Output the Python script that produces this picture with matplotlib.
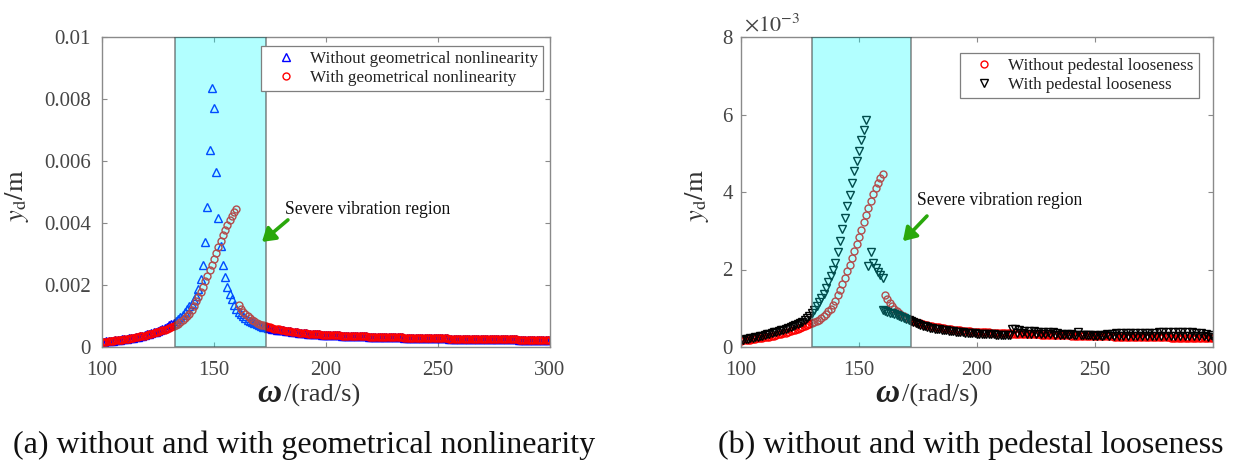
import numpy as np
import matplotlib
matplotlib.use('Agg')
import matplotlib.pyplot as plt

plt.rcParams['font.family'] = ['Liberation Serif', 'DejaVu Serif']
plt.rcParams['mathtext.fontset'] = 'stix'

# ---------------- data (displacement in units of 1e-4 m) ----------------
omega_start, omega_end = 100, 300
unit = 1e-4

# "With geometrical nonlinearity" / "Without pedestal looseness" (red circles)
y_red = [
    1.6, 1.7, 1.75, 1.8, 1.9, 2.0, 2.1, 2.2, 2.3, 2.4,            # 100
    2.5, 2.6, 2.7, 2.8, 2.95, 3.1, 3.25, 3.4, 3.55, 3.7,          # 110
    3.9, 4.1, 4.3, 4.5, 4.7, 4.9, 5.1, 5.35, 5.6, 5.85,           # 120
    6.1, 6.4, 6.7, 7.05, 7.5, 8.0, 8.6, 9.2, 9.9, 10.8,           # 130
    12.0, 13.3, 14.7, 16.2, 17.8, 19.5, 21.2, 23.0, 24.8, 26.6,   # 140
    28.4, 30.3, 32.2, 34.1, 36.0, 37.8, 39.5, 41.0, 42.4, 43.6,   # 150
    44.6, 13.4, 12.3, 11.4, 10.6, 9.9, 9.3, 8.8, 8.3, 7.9,        # 160
    7.55, 7.25, 7.0, 6.75, 6.5, 6.3, 6.1, 5.95, 5.8, 5.65,        # 170
    5.5, 5.38, 5.26, 5.15, 5.04, 4.94, 4.84, 4.74, 4.64, 4.55,    # 180
    4.45, 4.39, 4.33, 4.27, 4.21, 4.15, 4.09, 4.04, 3.99, 3.94,   # 190
    3.9, 3.87, 3.84, 3.81, 3.78, 3.75, 3.72, 3.69, 3.66, 3.63,    # 200
    3.6, 3.57, 3.55, 3.52, 3.5, 3.47, 3.45, 3.42, 3.4, 3.37,      # 210
    3.35, 3.33, 3.31, 3.29, 3.27, 3.25, 3.23, 3.21, 3.19, 3.17,   # 220
    3.15, 3.13, 3.11, 3.09, 3.07, 3.05, 3.03, 3.01, 2.99, 2.97,   # 230
    2.95, 2.93, 2.92, 2.9, 2.89, 2.87, 2.86, 2.84, 2.83, 2.81,    # 240
    2.8, 2.79, 2.78, 2.76, 2.75, 2.74, 2.73, 2.71, 2.7, 2.69,     # 250
    2.68, 2.67, 2.66, 2.65, 2.63, 2.62, 2.61, 2.6, 2.59, 2.58,    # 260
    2.57, 2.56, 2.55, 2.54, 2.53, 2.52, 2.51, 2.5, 2.49, 2.48,    # 270
    2.47, 2.46, 2.45, 2.44, 2.43, 2.42, 2.41, 2.4, 2.39, 2.38,    # 280
    2.38, 2.37, 2.36, 2.35, 2.34, 2.33, 2.33, 2.32, 2.31, 2.3, 2.3,  # 290-300
]

# "Without geometrical nonlinearity" (blue triangles)
y_blue = [
    1.65, 1.72, 1.8, 1.86, 1.94, 2.03, 2.12, 2.22, 2.32, 2.43,    # 100
    2.54, 2.65, 2.77, 2.9, 3.04, 3.19, 3.34, 3.5, 3.67, 3.85,     # 110
    4.05, 4.26, 4.48, 4.72, 4.97, 5.24, 5.53, 5.84, 6.18, 6.55,   # 120
    6.95, 7.4, 7.9, 8.45, 9.05, 9.7, 10.4, 11.2, 12.1, 13.1,      # 130
    14.0, 15.2, 16.4, 18.6, 21.8, 26.5, 33.8, 45.1, 63.5, 83.5,   # 140
    77.2, 56.3, 41.7, 32.7, 26.5, 22.5, 19.5, 17.1, 15.4, 13.6,   # 150
    12.3, 11.4, 10.6, 9.9, 9.3, 8.8, 8.35, 7.95, 7.6, 7.3,        # 160
    7.05, 6.8, 6.6, 6.4, 6.2, 6.05, 5.9, 5.75, 5.6, 5.5,          # 170
    5.5, 5.38, 5.26, 5.15, 5.04, 4.94, 4.84, 4.74, 4.64, 4.55,    # 180
    4.45, 4.39, 4.33, 4.27, 4.21, 4.15, 4.09, 4.04, 3.99, 3.94,   # 190
    3.9, 3.87, 3.84, 3.81, 3.78, 3.75, 3.72, 3.69, 3.66, 3.63,    # 200
    3.6, 3.57, 3.55, 3.52, 3.5, 3.47, 3.45, 3.42, 3.4, 3.37,      # 210
    3.35, 3.33, 3.31, 3.29, 3.27, 3.25, 3.23, 3.21, 3.19, 3.17,   # 220
    3.15, 3.13, 3.11, 3.09, 3.07, 3.05, 3.03, 3.01, 2.99, 2.97,   # 230
    2.95, 2.93, 2.92, 2.9, 2.89, 2.87, 2.86, 2.84, 2.83, 2.81,    # 240
    2.8, 2.79, 2.78, 2.76, 2.75, 2.74, 2.73, 2.71, 2.7, 2.69,     # 250
    2.68, 2.67, 2.66, 2.65, 2.63, 2.62, 2.61, 2.6, 2.59, 2.58,    # 260
    2.57, 2.56, 2.55, 2.54, 2.53, 2.52, 2.51, 2.5, 2.49, 2.48,    # 270
    2.47, 2.46, 2.45, 2.44, 2.43, 2.42, 2.41, 2.4, 2.39, 2.38,    # 280
    2.38, 2.37, 2.36, 2.35, 2.34, 2.33, 2.33, 2.32, 2.31, 2.3, 2.3,  # 290-300
]

# "With pedestal looseness" (black down-triangles)
y_black = [
    1.8, 1.9, 2.0, 2.1, 2.2, 2.35, 2.5, 2.65, 2.8, 2.95,          # 100
    3.1, 3.25, 3.4, 3.6, 3.8, 4.0, 4.15, 4.3, 4.5, 4.7,           # 110
    4.9, 5.1, 5.35, 5.6, 5.85, 6.15, 6.5, 6.9, 7.4, 8.0,          # 120
    8.75, 9.6, 10.5, 11.5, 12.6, 13.8, 15.2, 16.7, 18.3, 20.0,    # 130
    21.8, 24.5, 27.4, 30.4, 33.4, 36.3, 39.2, 42.3, 45.3, 48.0,   # 140
    50.7, 53.3, 55.9, 58.5, 20.9, 24.6, 21.6, 20.3, 19.4, 18.6,   # 150
    17.9, 9.4, 9.15, 8.9, 8.65, 8.4, 8.15, 7.9, 7.65, 7.4,        # 160
    7.2, 7.0, 6.75, 6.4, 6.1, 5.85, 5.65, 5.45, 5.3, 5.15,        # 170
    5.0, 4.88, 4.76, 4.65, 4.55, 4.45, 4.35, 4.26, 4.17, 4.09,    # 180
    4.01, 3.94, 3.87, 3.81, 3.75, 3.69, 3.64, 3.59, 3.54, 3.5,    # 190
    3.46, 3.42, 3.39, 3.36, 3.33, 3.3, 3.27, 3.25, 3.22, 3.2,     # 200
    3.18, 3.16, 3.14, 3.12, 3.1, 4.7, 4.55, 3.5, 4.4, 3.5,        # 210
    4.25, 3.45, 4.15, 3.4, 4.05, 3.35, 3.95, 3.3, 3.9, 3.3,       # 220
    3.85, 3.25, 3.75, 3.2, 3.5, 3.15, 3.4, 3.1, 3.3, 3.1,         # 230
    3.25, 3.05, 3.2, 4.0, 3.1, 3.0, 3.1, 3.0, 3.05, 2.95,         # 240
    3.0, 2.95, 3.0, 2.9, 3.0, 3.3, 2.95, 3.4, 2.9, 3.5,           # 250
    2.95, 3.55, 2.9, 3.6, 2.9, 3.65, 2.95, 3.6, 2.9, 3.5,         # 260
    2.9, 3.5, 2.85, 3.6, 2.9, 3.7, 2.85, 3.8, 2.9, 3.85,          # 270
    2.85, 3.85, 2.9, 3.9, 2.85, 3.85, 2.9, 3.9, 2.85, 3.85,       # 280
    2.85, 3.8, 2.8, 3.7, 2.8, 3.6, 2.75, 3.4, 2.7, 3.1, 2.5,      # 290-300
]
# lower-branch start of the looseness response (second value at the same speed)
black_extra_omega = [160]
black_extra_y = [9.6]

omega = np.arange(omega_start, omega_end + 1)
assert len(y_red) == len(omega) and len(y_blue) == len(omega) and len(y_black) == len(omega)

shade_a = (132.6, 173.2)
shade_b = (130.0, 172.0)

x_ticks = [100, 150, 200, 250, 300]
y_ticks_a = [0, 0.002, 0.004, 0.006, 0.008, 0.01]
y_ticklabels_a = ['0', '0.002', '0.004', '0.006', '0.008', '0.01']
y_ticks_b = [0, 2e-3, 4e-3, 6e-3, 8e-3]
y_ticklabels_b = ['0', '2', '4', '6', '8']

legend_a = ['Without geometrical nonlinearity', 'With geometrical nonlinearity']
legend_b = ['Without pedestal looseness', 'With pedestal looseness']
captions = ['(a) without and with geometrical nonlinearity',
            '(b) without and with pedestal looseness']
region_text = 'Severe vibration region'

# ---------------- figure ----------------
W, H = 1237, 462
fig = plt.figure(figsize=(W / 100, H / 100), dpi=100)


def axes_px(x0, y0, x1, y1):
    return fig.add_axes([x0 / W, 1 - y1 / H, (x1 - x0) / W, (y1 - y0) / H])


ax1 = axes_px(102, 37, 550, 347)
ax2 = axes_px(741, 37, 1213, 347)

spine_c = '#8a8a8a'
tick_c = '#454545'
green = '#2aa80c'

y_red_m = np.array(y_red) * unit
y_blue_m = np.array(y_blue) * unit
y_black_m = np.array(y_black) * unit

mk = dict(linestyle='none', mfc='none', mew=1.0)

# panel (a)
h1, = ax1.plot(omega, y_blue_m, marker='^', color='#0000ff', ms=5.6, zorder=2, **mk)
h2, = ax1.plot(omega, y_red_m, marker='o', color='#ff0000', ms=5.0, zorder=2.1, **mk)
# panel (b)
h3, = ax2.plot(omega, y_red_m, marker='o', color='#ff0000', ms=5.0, zorder=2, **mk)
h4, = ax2.plot(np.concatenate([omega, black_extra_omega]),
               np.concatenate([y_black_m, np.array(black_extra_y) * unit]),
               marker='v', color='k', ms=5.6, zorder=2.1, **mk)

for ax, shade, ymax, yt, ytl, lpad in [
        (ax1, shade_a, 0.01, y_ticks_a, y_ticklabels_a, 8),
        (ax2, shade_b, 0.008, y_ticks_b, y_ticklabels_b, 6)]:
    ax.axvspan(shade[0], shade[1], facecolor=(0, 1, 1, 0.3),
               edgecolor=(0.25, 0.25, 0.25, 0.6), lw=1.2, zorder=3)
    ax.set_xlim(omega_start, omega_end)
    ax.set_ylim(0, ymax)
    ax.set_xticks(x_ticks)
    ax.set_xticklabels([str(t) for t in x_ticks])
    ax.set_yticks(yt)
    ax.set_yticklabels(ytl)
    ax.tick_params(direction='in', length=3.5, width=0.8, color=spine_c,
                   top=True, right=True, labelsize=15, labelcolor=tick_c)
    ax.tick_params(axis='x', pad=10)
    ax.tick_params(axis='y', pad=lpad)
    for s in ax.spines.values():
        s.set_color(spine_c)
        s.set_linewidth(1.0)

leg_kw = dict(loc='upper right', borderaxespad=0, fancybox=False,
              edgecolor='#7f7f7f', framealpha=1, fontsize=12.3,
              handlelength=2.3, handletextpad=0.25, borderpad=0.3,
              labelspacing=0.15, markerscale=1.0)
lg1 = ax1.legend([h1, h2], legend_a, bbox_to_anchor=(0.984, 0.971), **leg_kw)
lg2 = ax2.legend([h3, h4], legend_b, bbox_to_anchor=(0.970, 0.948), **leg_kw)
for lg in (lg1, lg2):
    lg.set_zorder(5)
    lg.get_frame().set_linewidth(0.9)
    for t in lg.get_texts():
        t.set_color('#222222')

# annotations
arrow_kw = dict(arrowstyle='-|>,head_length=0.55,head_width=0.35', color=green,
                lw=2.6, mutation_scale=14, shrinkA=0, shrinkB=0)
ax1.annotate('', xy=(171.4, 0.00339), xytext=(183.0, 0.00410),
             arrowprops=arrow_kw, zorder=6)
ax1.text(181.7, 0.00442, region_text, fontsize=12.7, color='#111111',
         ha='left', va='center', zorder=6)
ax2.annotate('', xy=(168.6, 2.73e-3), xytext=(178.8, 3.38e-3),
             arrowprops=arrow_kw, zorder=6)
ax2.text(174.6, 3.77e-3, region_text, fontsize=12.7, color='#111111',
         ha='left', va='center', zorder=6)

# axis labels
lab_c = '#333333'
for xw in (281, 899):
    fig.text(xw / W, 1 - 402 / H, '\u03c9', fontsize=24, fontstyle='italic',
             fontweight='bold', ha='right', va='baseline', color='#222222')
    fig.text((xw + 3) / W, 1 - 402 / H, '/(rad/s)', fontsize=19,
             ha='left', va='baseline', color=lab_c)
for xc in (17, 697):
    fig.text(xc / W, 1 - 196 / H, r'$y_{\mathrm{d}}/\mathrm{m}$', fontsize=19,
             rotation=90, ha='center', va='center', color=lab_c)

# exponent label of panel (b)
fig.text(744 / W, 1 - 31 / H, r'$\times10^{-3}$', fontsize=16,
         ha='left', va='baseline', color=tick_c)

# captions
fig.text(304 / W, 1 - 453 / H, captions[0], fontsize=23, ha='center',
         va='baseline', color='#111111')
fig.text(971 / W, 1 - 453 / H, captions[1], fontsize=23, ha='center',
         va='baseline', color='#111111')

fig.savefig('out.png', dpi=100)
